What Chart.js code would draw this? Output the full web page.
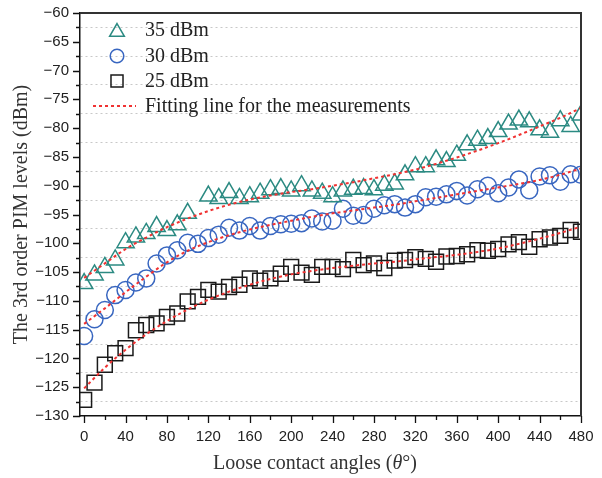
<!DOCTYPE html>
<html>
<head>
<meta charset="utf-8">
<script src="https://cdn.jsdelivr.net/npm/chart.js@4.4.1/dist/chart.umd.min.js"></script>
<style>
  html, body { margin: 0; padding: 0; background: #fff; }
  #wrap { width: 602px; height: 478px; }
</style>
</head>
<body>
<div id="wrap"><canvas id="pim" width="602" height="478"></canvas></div>
<script>
const angles = [0, 10, 20, 30, 40, 50, 60, 70, 80, 90, 100, 110, 120, 130, 140, 150, 160, 170, 180, 190,
  200, 210, 220, 230, 240, 250, 260, 270, 280, 290, 300, 310, 320, 330, 340, 350, 360, 370, 380, 390,
  400, 410, 420, 430, 440, 450, 460, 470, 480];
const pim35 = [-107, -105.5, -104.2, -102.9, -99.9, -98.9, -98.3, -97.1, -97.8, -96.8, -94.8, null,
  -91.8, -92.2, -91.2, -92.2, -91.9, -91.3, -90.7, -90.5, -90.9, -90.0, -90.9, -91.3, -91.9, -90.9,
  -90.6, -90.5, -90.7, -89.9, -89.7, -88.1, -86.7, -86.7, -85.5, -85.8, -84.7, -82.9, -82.1, -81.8,
  -80.6, -79.3, -78.6, -78.9, -80.3, -80.7, -78.7, -79.7, -77.7];
const pim30 = [-116.1, -113.2, -111.6, -109.0, -108.1, -106.8, -106.1, -103.5, -102.1, -101.2, -99.9,
  -100.1, -99.1, -98.5, -97.3, -97.8, -97.0, -97.8, -97.0, -96.7, -96.6, -96.5, -95.7, -96.2, -96.1,
  -94.0, -95.2, -95.1, -94.0, -93.4, -93.2, -93.8, -93.2, -92.0, -91.9, -91.5, -90.9, -91.7, -90.6,
  -90.0, -91.3, -90.3, -88.9, -90.8, -88.4, -88.2, -89.3, -88.0, -88.1];
const pim25 = [-127.2, -124.2, -121.1, -119.1, -118.2, -115.1, -114.2, -113.9, -112.8, -112.2, -110.1,
  -109.3, -108.1, -108.4, -107.6, -107.2, -106.1, -106.5, -106.1, -105.3, -104.1, -105.1, -105.5,
  -104.1, -104.1, -104.5, -102.9, -103.8, -103.5, -104.3, -103.0, -102.9, -102.4, -102.7, -103.2,
  -102.3, -102.2, -101.9, -101.2, -101.3, -101.0, -100.2, -99.8, -100.6, -99.3, -99.0, -98.7, -97.7, -98.0];

// fitting curves, sampled every 20 degrees
const fitAngles = [0, 20, 40, 60, 80, 100, 120, 140, 160, 180, 200, 220, 240, 260, 280, 300, 320, 340,
  360, 380, 400, 420, 440, 460, 480];
const fit35 = [-106, -103.5, -101, -99, -97.2, -95.7, -94.4, -93.3, -92.4, -91.7, -91.1, -90.6, -90.0,
  -89.4, -88.7, -88.0, -87.2, -86.2, -85.1, -83.9, -82.6, -81.2, -79.7, -78.2, -76.5];
const fit30 = [-114, -111.3, -108.5, -105.8, -103.3, -101.3, -99.8, -98.6, -97.6, -96.8, -96.1, -95.4,
  -94.8, -94.3, -93.8, -93.3, -92.7, -92.1, -91.5, -90.9, -90.3, -89.7, -89.0, -88.1, -87.0];
const fit25 = [-125.2, -121.6, -118.5, -115.8, -113.5, -111.5, -109.8, -108.4, -107.2, -106.2, -105.4,
  -104.8, -104.3, -103.9, -103.5, -103.2, -102.8, -102.4, -102.0, -101.5, -100.9, -100.1, -99.2, -98.2, -97.1];

const xTicks = [0, 40, 80, 120, 160, 200, 240, 280, 320, 360, 400, 440, 480];
const yTicks = [-130, -125, -120, -115, -110, -105, -100, -95, -90, -85, -80, -75, -70, -65, -60];
const seriesLabels = ['35 dBm', '30 dBm', '25 dBm'];
const fitLabel = 'Fitting line for the measurements';

const TEAL = '#2b8a82';
const BLUE = '#3866c0';
const BLACK = '#1a1a1a';
const RED = '#f03232';
const SANS = '"Liberation Sans", Arial, sans-serif';
const SERIF = '"Liberation Serif", "Times New Roman", serif';

function pts(xs, ys) {
  return xs.map((x, i) => ({ x: x, y: ys[i] }));
}

// y ticks every 2.5: labels on the 5s, dotted grid on the halves
const yAll = [];
yTicks.forEach((v, i) => {
  yAll.push(v);
  if (i < yTicks.length - 1) yAll.push((v + yTicks[i + 1]) / 2);
});
const isMajorY = (v) => Math.abs(v % 5) < 1e-6;

function markerSet(label, ys, style, color, radius) {
  return {
    label: label,
    data: pts(angles, ys),
    showLine: false,
    pointStyle: style,
    pointRadius: radius,
    pointBorderWidth: 1.5,
    pointBorderColor: color,
    pointBackgroundColor: 'rgba(0,0,0,0)',
    borderColor: color,
    order: 1,
  };
}

function fitSet(ys) {
  return {
    label: fitLabel,
    data: pts(fitAngles, ys),
    showLine: true,
    borderColor: RED,
    borderWidth: 2,
    borderDash: [3, 3],
    pointRadius: 0,
    cubicInterpolationMode: 'monotone',
    order: 0,
  };
}

// frame, minor ticks, inside legend and axis titles
const decorations = {
  id: 'decorations',
  afterDraw(chart) {
    const ctx = chart.ctx;
    const ca = chart.chartArea;
    const xs = chart.scales.x;
    const ys = chart.scales.y;

    ctx.save();
    // top + right frame
    ctx.strokeStyle = '#333';
    ctx.lineWidth = 2;
    ctx.beginPath();
    ctx.moveTo(ca.left, ca.top);
    ctx.lineTo(ca.right, ca.top);
    ctx.lineTo(ca.right, ca.bottom);
    ctx.stroke();

    // outward ticks
    ctx.strokeStyle = '#111';
    ctx.lineWidth = 1.3;
    ctx.beginPath();
    yAll.forEach((v) => {
      const py = Math.round(ys.getPixelForValue(v)) + 0.5;
      const len = isMajorY(v) ? 7 : 4;
      ctx.moveTo(ca.left - len, py);
      ctx.lineTo(ca.left, py);
    });
    xTicks.forEach((v, i) => {
      let px = Math.round(xs.getPixelForValue(v)) + 0.5;
      ctx.moveTo(px, ca.bottom);
      ctx.lineTo(px, ca.bottom + 7);
      if (i < xTicks.length - 1) {
        px = Math.round(xs.getPixelForValue((v + xTicks[i + 1]) / 2)) + 0.5;
        ctx.moveTo(px, ca.bottom);
        ctx.lineTo(px, ca.bottom + 4);
      }
    });
    ctx.stroke();

    // legend inside the plot
    const mx = ca.left + 37;
    const tx = ca.left + 65;
    const rows = [
      { style: 'triangle', color: TEAL, r: 8.5, y: ca.top + 17 },
      { style: 'circle', color: BLUE, r: 6.8, y: ca.top + 43 },
      { style: 'rect', color: BLACK, r: 8.5, y: ca.top + 68 },
    ];
    ctx.font = '20px ' + SERIF;
    ctx.textBaseline = 'middle';
    ctx.textAlign = 'left';
    rows.forEach((row, i) => {
      ctx.strokeStyle = row.color;
      ctx.fillStyle = 'rgba(0,0,0,0)';
      ctx.lineWidth = 1.5;
      Chart.helpers.drawPoint(ctx, { pointStyle: row.style, radius: row.r, rotation: 0, borderWidth: 1.5 },
        mx, row.y + (row.style === 'triangle' ? 2 : 0));
      ctx.fillStyle = '#222';
      ctx.fillText(seriesLabels[i], tx, row.y + 1);
    });
    const ly = ca.top + 93;
    ctx.strokeStyle = RED;
    ctx.lineWidth = 2;
    ctx.setLineDash([3, 3]);
    ctx.beginPath();
    ctx.moveTo(ca.left + 13, ly);
    ctx.lineTo(ca.left + 56, ly);
    ctx.stroke();
    ctx.setLineDash([]);
    ctx.fillStyle = '#222';
    ctx.fillText(fitLabel, tx, ly + 1);

    // x title with italic theta
    const parts = [
      { t: 'Loose contact angles (', f: '20px ' + SERIF },
      { t: 'θ', f: 'italic 20px ' + SERIF },
      { t: '°)', f: '20px ' + SERIF },
    ];
    let total = 0;
    parts.forEach((p) => { ctx.font = p.f; p.w = ctx.measureText(p.t).width; total += p.w; });
    let cx = 315 - total / 2;
    ctx.fillStyle = '#333';
    parts.forEach((p) => { ctx.font = p.f; ctx.fillText(p.t, cx, 464); cx += p.w; });

    // y title
    ctx.translate(22, (ca.top + ca.bottom) / 2);
    ctx.rotate(-Math.PI / 2);
    ctx.font = '20px ' + SERIF;
    ctx.textAlign = 'center';
    ctx.fillText('The 3rd order PIM levels (dBm)', 0, 0);
    ctx.restore();
  },
};

new Chart(document.getElementById('pim'), {
  type: 'line',
  data: {
    datasets: [
      fitSet(fit35),
      fitSet(fit30),
      fitSet(fit25),
      markerSet(seriesLabels[0], pim35, 'triangle', TEAL, 10),
      markerSet(seriesLabels[1], pim30, 'circle', BLUE, 8.5),
      markerSet(seriesLabels[2], pim25, 'rect', BLACK, 10.5),
    ],
  },
  options: {
    responsive: false,
    animation: false,
    devicePixelRatio: 1,
    layout: { padding: { top: 13, right: 21, left: 0, bottom: 0 } },
    plugins: { legend: { display: false }, tooltip: { enabled: false } },
    scales: {
      x: {
        type: 'linear',
        min: -4,
        max: 480,
        afterBuildTicks: (s) => { s.ticks = xTicks.map((v) => ({ value: v })); },
        afterFit: (s) => { s.height = 62; s.paddingLeft = 0; s.paddingRight = 0; },
        ticks: { font: { family: SANS, size: 15 }, color: '#222', padding: 12, maxRotation: 0, autoSkip: false },
        grid: { drawOnChartArea: false, drawTicks: false },
        border: { display: true, color: '#111', width: 1.5 },
      },
      y: {
        min: -130,
        max: -60,
        afterBuildTicks: (s) => { s.ticks = yAll.map((v) => ({ value: v })); },
        afterFit: (s) => { s.width = 80; s.paddingTop = 0; s.paddingBottom = 0; },
        ticks: {
          font: { family: SANS, size: 15 },
          color: '#222',
          padding: 11,
          autoSkip: false,
          callback: (v) => (isMajorY(v) ? '\u2212' + Math.abs(v) : ''),
        },
        grid: {
          drawTicks: false,
          lineWidth: 1,
          color: (c) => (c.tick && !isMajorY(c.tick.value) ? '#c8c8c8' : 'rgba(0,0,0,0)'),
        },
        border: { display: true, color: '#111', width: 1.5, dash: [2, 3] },
      },
    },
  },
  plugins: [decorations],
});
</script>
</body>
</html>
